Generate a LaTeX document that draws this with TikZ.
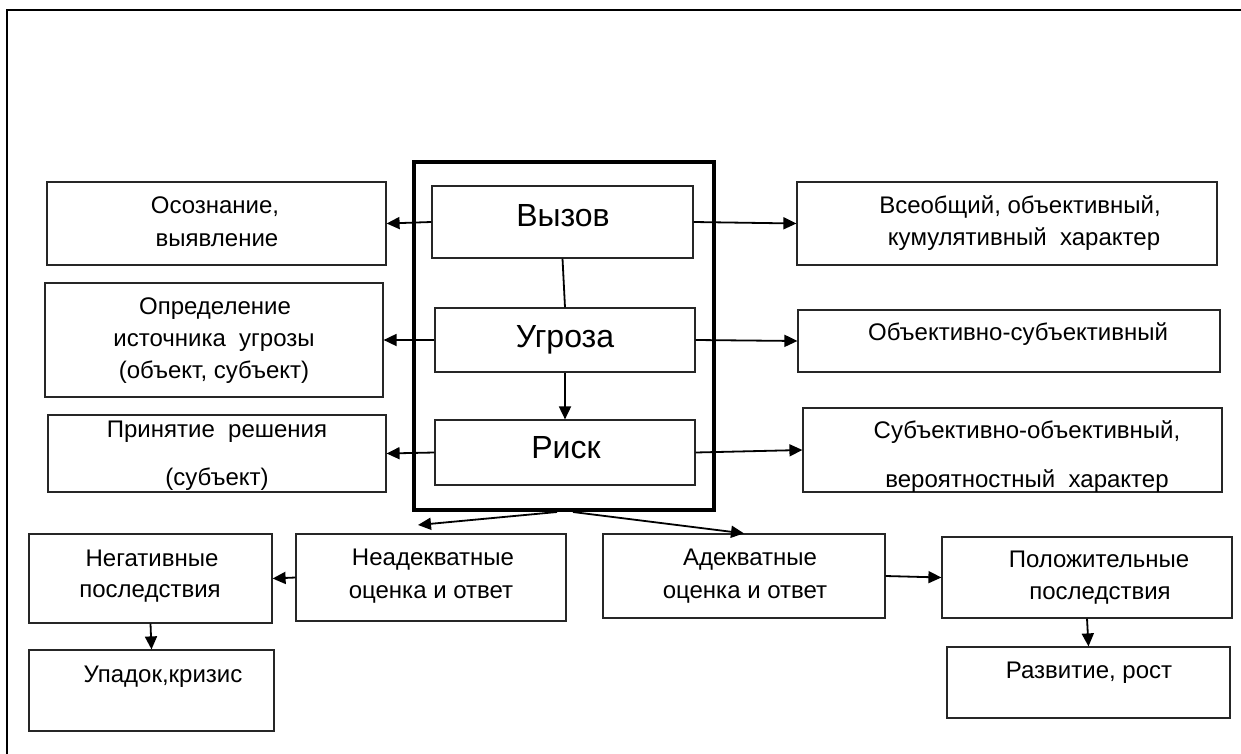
\documentclass[tikz,border=0pt]{standalone}
\usepackage{fontspec}
\setmainfont{Liberation Sans}
\usetikzlibrary{arrows.meta}
\begin{document}
\begin{tikzpicture}[x=1pt,y=-1pt,
  box/.style={draw=black!85,line width=1.2pt,rectangle,inner sep=0pt},
  bigbox/.style={draw=black,line width=4pt,rectangle,inner sep=0pt},
  smalltxt/.style={anchor=base,inner sep=0pt,font=\fontsize{24pt}{28pt}\selectfont},
  bigtxt/.style={anchor=base,inner sep=0pt,font=\fontsize{32pt}{36pt}\selectfont},
  arr/.style={line width=1.8pt,-{Triangle[length=13pt,width=12pt]}},
  ln/.style={line width=1.8pt}]
\useasboundingbox (0,0) rectangle (1241,754);
\fill[white] (0,0) rectangle (1241,754);
% outer frame
\coordinate (fa) at (7,754);
\coordinate (fb) at (7,10);
\coordinate (fc) at (1241,10);
\draw[line width=1.8pt] (fa) -- (fb) -- (fc);
% central frame
\node[bigbox,minimum width=300pt,minimum height=348pt] (big) at (564,336) {};
\node[box,minimum width=261pt,minimum height=72pt] (vyz) at (562.5,222) {};
\node[box,minimum width=260pt,minimum height=64pt] (ugr) at (565,340) {};
\node[box,minimum width=260pt,minimum height=65pt] (risk) at (565,452.5) {};
% left boxes
\node[box,minimum width=339pt,minimum height=83pt] (osoz) at (216.5,223.5) {};
\node[box,minimum width=338pt,minimum height=114pt] (opr) at (214,340) {};
\node[box,minimum width=338pt,minimum height=77pt] (prin) at (217,453.5) {};
% right boxes
\node[box,minimum width=420pt,minimum height=83pt] (vseob) at (1007,223.5) {};
\node[box,minimum width=422pt,minimum height=62pt] (obsub) at (1009,341) {};
\node[box,minimum width=419pt,minimum height=84pt] (subob) at (1012.5,450) {};
% bottom boxes
\node[box,minimum width=243pt,minimum height=89pt] (neg) at (150.5,578.5) {};
\node[box,minimum width=245pt,minimum height=81pt] (upad) at (151.5,690.5) {};
\node[box,minimum width=270pt,minimum height=87pt] (nead) at (431,577.5) {};
\node[box,minimum width=282pt,minimum height=84pt] (adek) at (744,576) {};
\node[box,minimum width=290pt,minimum height=81pt] (polo) at (1087,577.5) {};
\node[box,minimum width=283pt,minimum height=71pt] (razv) at (1088.5,682.5) {};
% texts
\node[bigtxt] (tvyz) at (563,226) {Вызов};
\node[bigtxt] (tugr) at (565,347) {Угроза};
\node[bigtxt] (trisk) at (566,458) {Риск};
\node[smalltxt] (tosoz1) at (215,213) {Осознание,};
\node[smalltxt] (tosoz2) at (217,246) {выявление};
\node[smalltxt] (topr1) at (215,314) {Определение};
\node[smalltxt] (topr2) at (214,346) {источника\ \ угрозы};
\node[smalltxt] (topr3) at (214,378) {(объект, субъект)};
\node[smalltxt] (tprin1) at (217,437) {Принятие\ \ решения};
\node[smalltxt] (tprin2) at (217,485) {(субъект)};
\node[smalltxt] (tvseob1) at (1020,213) {Всеобщий, объективный,};
\node[smalltxt] (tvseob2) at (1024,245) {кумулятивный\ \ характер};
\node[smalltxt] (tobsub) at (1018,340) {Объективно-субъективный};
\node[smalltxt] (tsubob1) at (1027,438) {Субъективно-объективный,};
\node[smalltxt] (tsubob2) at (1027,487) {вероятностный\ \ характер};
\node[smalltxt] (tneg1) at (152,566) {Негативные};
\node[smalltxt] (tneg2) at (150,597) {последствия};
\node[smalltxt] (tupad) at (163,682) {Упадок,кризис};
\node[smalltxt] (tnead1) at (433,565) {Неадекватные};
\node[smalltxt] (tnead2) at (431,598) {оценка и ответ};
\node[smalltxt] (tadek1) at (750,565) {Адекватные};
\node[smalltxt] (tadek2) at (745,598) {оценка и ответ};
\node[smalltxt] (tpolo1) at (1099,567) {Положительные};
\node[smalltxt] (tpolo2) at (1100,599) {последствия};
\node[smalltxt] (trazv) at (1089,678) {Развитие, рост};
% connectors
\draw[arr] (vyz.west) -- (osoz.east);
\draw[arr] (ugr.west) -- (opr.east);
\draw[arr] (risk.west) -- (prin.east);
\draw[arr] (vyz.east) -- (vseob.west);
\draw[arr] (ugr.east) -- (obsub.west);
\draw[arr] (risk.east) -- (subob.west);
\draw[ln] (vyz.south) -- (ugr.north);
\draw[arr] (ugr.south) -- (risk.north);
\coordinate (t1) at (418,525);
\draw[arr] ([xshift=-7pt]big.south) -- (t1);
\draw[arr] ([xshift=9pt]big.south) -- (adek.north);
\draw[arr] (nead.west) -- (neg.east);
\draw[arr] (neg.south) -- (upad.north);
\draw[arr] (adek.east) -- (polo.west);
\draw[arr] (polo.south) -- (razv.north);
\end{tikzpicture}
\end{document}
